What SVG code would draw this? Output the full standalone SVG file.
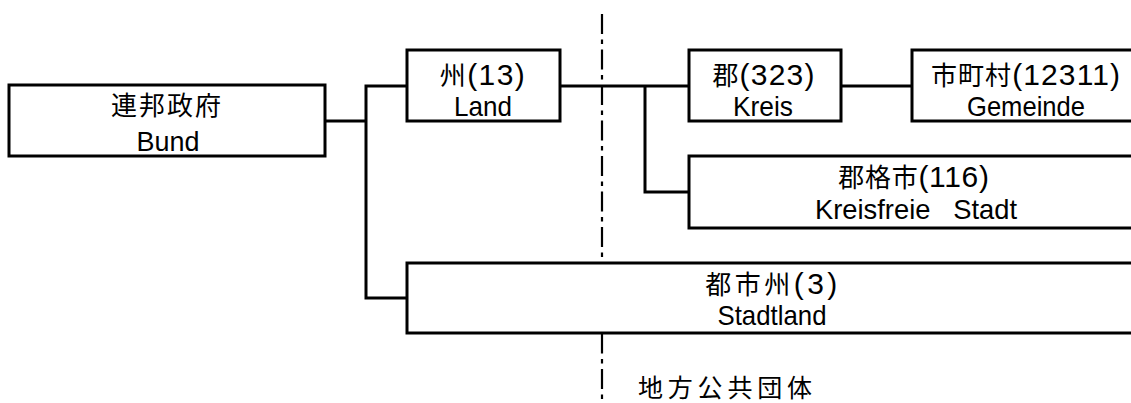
<svg xmlns="http://www.w3.org/2000/svg" width="1131" height="403" viewBox="0 0 1131 403">
<style>
.box{fill:#fff;stroke:#000;stroke-width:3}
.ln{fill:none;stroke:#000;stroke-width:3}
.dash{fill:none;stroke:#000;stroke-width:2.2;stroke-dasharray:20 5.5 4.5 5.5}
text{font-family:"Liberation Sans","Noto Sans CJK JP",sans-serif;font-size:26px;fill:#000;text-anchor:middle}
.lat{font-size:28px}
.num{font-size:30px}
</style>
<rect width="1131" height="403" fill="#fff"/>
<line class="dash" x1="602" y1="14" x2="602" y2="403"/>
<g id="connectors">
<polyline class="ln" points="325,121 366,121"/>
<polyline class="ln" points="407,86 366,86 366,298 407,298"/>
<polyline class="ln" points="560,86 689,86"/>
<polyline class="ln" points="645,86 645,192 689,192"/>
<polyline class="ln" points="841,86 912,86"/>
</g>
<g id="bund">
<rect class="box" x="9" y="85" width="316" height="71"/>
<text x="167" y="115" style="letter-spacing:2px">連邦政府</text>
<text x="168" y="151" class="lat" textLength="63" lengthAdjust="spacingAndGlyphs">Bund</text>
</g>
<g id="land">
<rect class="box" x="407" y="50" width="153" height="71"/>
<text x="483" y="85" style="letter-spacing:1.4px">州<tspan class="num">(13)</tspan></text>
<text x="483" y="116" class="lat" textLength="58" lengthAdjust="spacingAndGlyphs">Land</text>
</g>
<g id="kreis">
<rect class="box" x="689" y="50" width="152" height="71"/>
<text x="764" y="85" style="letter-spacing:1.2px">郡<tspan class="num">(323)</tspan></text>
<text x="763" y="116" class="lat" textLength="60" lengthAdjust="spacingAndGlyphs">Kreis</text>
</g>
<g id="gemeinde">
<rect class="box" x="912" y="50" width="240" height="71"/>
<text x="1026" y="85" style="letter-spacing:1.1px">市町村<tspan class="num">(12311)</tspan></text>
<text x="1026" y="116" class="lat" textLength="118" lengthAdjust="spacingAndGlyphs">Gemeinde</text>
</g>
<g id="kreisfreie">
<rect class="box" x="689" y="156" width="460" height="72"/>
<text x="914" y="187" style="letter-spacing:0.7px">郡格市<tspan class="num">(116)</tspan></text>
<text x="916" y="219" class="lat" textLength="202" lengthAdjust="spacingAndGlyphs" xml:space="preserve">Kreisfreie   Stadt</text>
</g>
<g id="stadtland">
<rect class="box" x="407" y="263" width="740" height="70"/>
<text x="773" y="294" style="letter-spacing:3.5px">都市州<tspan class="num">(3)</tspan></text>
<text x="772" y="325" class="lat" textLength="109" lengthAdjust="spacingAndGlyphs">Stadtland</text>
</g>
<g id="label">
<text x="638" y="397" style="text-anchor:start;font-size:25px;letter-spacing:4.8px">地方公共団体</text>
</g>
</svg>
